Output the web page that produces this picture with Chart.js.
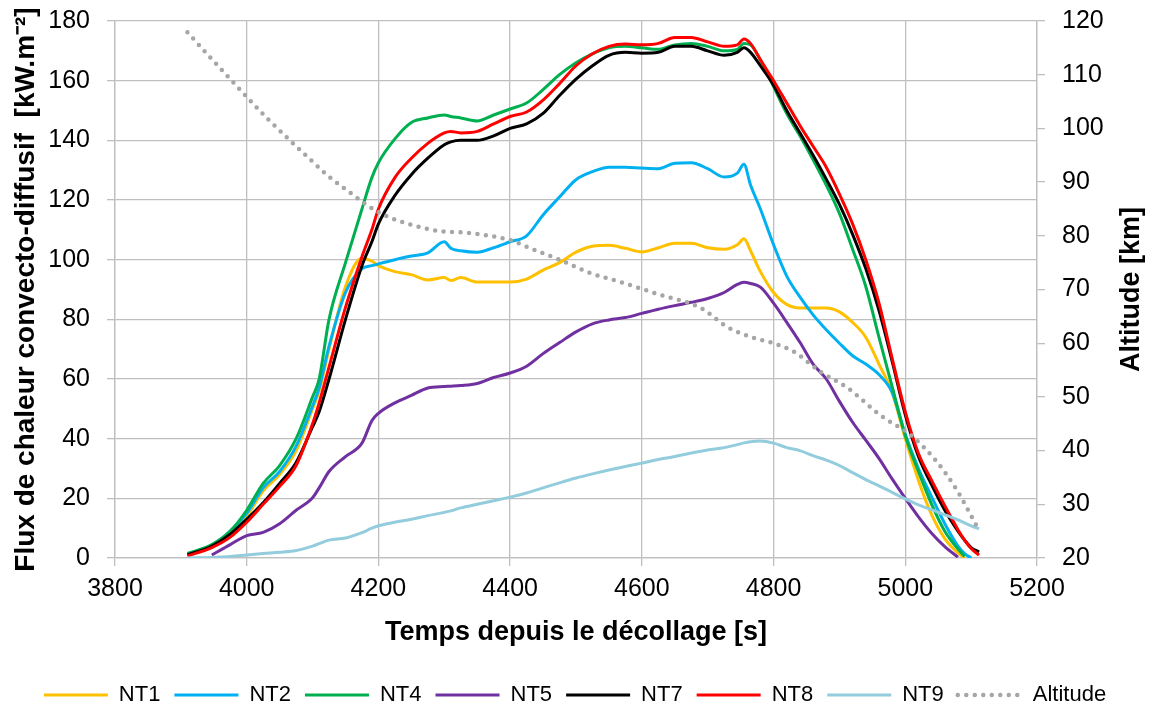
<!DOCTYPE html>
<html>
<head>
<meta charset="utf-8">
<script src="https://cdn.jsdelivr.net/npm/chart.js@4.4.0/dist/chart.umd.min.js"></script>
<style>
  html, body { margin: 0; padding: 0; background: #fff; }
  #box { width: 1150px; height: 712px; }
</style>
</head>
<body>
<div id="box"><canvas id="chart" width="1150" height="712"></canvas></div>
<script>
// temps depuis le décollage [s] (grille commune des thermocouples)
const temps = [3910, 3947, 3975, 4000, 4025, 4050, 4075, 4100, 4110, 4125,
  4150, 4175, 4190, 4200, 4225, 4250, 4275, 4300, 4310, 4325,
  4350, 4375, 4400, 4425, 4450, 4475, 4500, 4525, 4550, 4575,
  4600, 4625, 4650, 4675, 4700, 4725, 4745, 4755, 4765, 4780,
  4800, 4820, 4840, 4860, 4880, 4900, 4920, 4940, 4960, 4980,
  5000, 5020, 5040, 5060, 5080, 5090, 5100, 5112];

// flux convecto-diffusif [kW.m-2]
const fluxNT1 = [1, 4, 8.5, 14, 22.5, 28, 36, 50, 56, 70,
  91, 100.5, 99.5, 98, 96, 95, 93.2, 94, 93, 94,
  92.5, 92.5, 92.5, 93.5, 96.5, 99, 102.5, 104.5, 104.8, 103.8,
  102.6, 104, 105.5, 105.5, 104, 103.5, 105, 107, 103, 96,
  89, 85, 83.8, 83.8, 83.8, 82.5, 79, 74, 65, 55.5,
  40, 26, 14.5, 6.5, 1.7, 0, null, null];
const fluxNT2 = [1.2, 4.2, 9, 15, 23.5, 29, 37.5, 51, 57, 71,
  89, 97, 98, 98.6, 100, 101.2, 102.3, 106, 103.8, 103,
  102.5, 104, 106, 108, 115, 121, 126.8, 129.5, 131, 131,
  130.7, 130.5, 132.3, 132.5, 130.5, 127.7, 129, 132, 125, 117,
  105, 94.5, 87.5, 81.5, 76.5, 72, 67.8, 65, 61.5, 55.5,
  41.5, 30, 20.5, 11.5, 4, 1.5, 0, null];
const fluxNT4 = [1.5, 4.5, 9, 16, 25, 31, 40, 54, 60, 80,
  99, 117, 127.5, 132.5, 140.5, 146, 147.5, 148.5, 148, 147.5,
  146.5, 148.5, 150.5, 152.5, 157, 162, 166, 169, 171, 171.5,
  171, 170.5, 172, 172.5, 171.5, 170, 170.5, 172.5, 172, 167,
  158, 149, 141.5, 133.5, 125, 115.5, 103.5, 91, 74, 57.5,
  41, 29, 18, 9, 3, 0.5, null, null];
const fluxNT5 = [null, 1, 4.5, 7.5, 8.6, 11.5, 16, 20.2, 23.5, 29,
  34, 38.5, 46, 48.5, 52, 54.5, 57, 57.5, 57.6, 57.8,
  58.5, 60.5, 62, 64.3, 68.5, 72.2, 75.8, 78.5, 79.8, 80.6,
  82, 83.4, 84.6, 85.7, 87, 89, 91.7, 92.4, 92, 90.8,
  85.4, 79, 72.3, 65, 60, 52.5, 45.5, 39.5, 33.4, 26.5,
  20, 13.8, 8.3, 3.8, 0.3, null, null, null];
const fluxNT7 = [1, 4, 8, 13, 18.5, 25, 32, 44, 49, 60,
  80, 98, 106, 112, 121.5, 128.5, 134, 138.5, 139.5, 140,
  140, 141.5, 144, 145.5, 149, 155, 160.5, 165, 168.5, 169.5,
  169.2, 169.5, 171.5, 171.5, 170, 168.5, 169.5, 171, 169.5, 165,
  158.5, 150, 142.5, 135, 127, 118.5, 108.5, 97, 83, 66,
  48, 34, 24.5, 16, 9, 6, 3.5, 2];
const fluxNT8 = [0.7, 3.5, 7, 12, 18, 24, 31, 45, 52, 64,
  84, 101, 110, 117, 127.5, 134, 139, 142.5, 143, 142.5,
  143, 145.5, 148, 149.5, 153.5, 159, 165, 169, 171.5, 172.3,
  172, 172.5, 174.5, 174.5, 173, 171.5, 172, 174, 172.5, 167,
  160, 152.5, 145, 138, 131, 122, 112, 100, 85.5, 67,
  49, 35, 26, 17.5, 9.5, 6, 3.2, 1];
const fluxNT9 = [0, 0.2, 0.5, 1, 1.5, 1.9, 2.5, 4, 4.8, 6,
  6.7, 8.5, 10, 10.8, 12, 13, 14.2, 15.3, 15.8, 16.8,
  18, 19.2, 20.4, 21.8, 23.5, 25.2, 26.8, 28.2, 29.5, 30.7,
  31.8, 33, 34, 35.2, 36.2, 37, 38, 38.6, 39, 39.2,
  38.5, 37, 36, 34.3, 32.8, 31, 28.6, 26.3, 24.2, 22,
  19.8, 17.8, 16.2, 14.5, 12.8, 11.8, 10.8, 9.8];

// trajectoire : altitude [km]
const tempsAltitude = [3910, 3950, 3990, 4030, 4062, 4100, 4122, 4162, 4176, 4203,
  4230, 4264, 4291, 4339, 4400, 4430, 4476, 4521, 4567, 4628,
  4689, 4730, 4770, 4800, 4831, 4872, 4911, 4962, 5012, 5048,
  5078, 5110];
const altitude = [117.9, 112.5, 107.2, 102, 98.2, 93.8, 91.3, 87.6, 86.3, 84.2,
  82.8, 81.6, 80.9, 80.5, 79.2, 77.7, 75.5, 73.1, 71.4, 69,
  66.6, 63, 61, 60, 58.4, 54.6, 51.8, 46.6, 42.5, 37.9,
  32.7, 25.6];

const noms = ['NT1', 'NT2', 'NT4', 'NT5', 'NT7', 'NT8', 'NT9'];
const couleurs = ['#FFC000', '#00B0F0', '#00B050', '#7030A0', '#000000', '#FF0000', '#93CDDD'];
const flux = [fluxNT1, fluxNT2, fluxNT4, fluxNT5, fluxNT7, fluxNT8, fluxNT9];

const police = "'Liberation Sans', Arial, sans-serif";
const gris = 'rgb(191,191,191)';

function versPoints(xs, ys) {
  return xs.map((x, i) => ({x: x, y: ys[i]}));
}

// largeur fixe des axes verticaux, sans marge en haut/bas pour les étiquettes
function axeVertical(largeur) {
  return function(scale) {
    scale.width = largeur;
    scale.paddingTop = 0;
    scale.paddingBottom = 0;
  };
}

let datasets = noms.map((nom, i) => ({
  label: nom,
  data: versPoints(temps, flux[i]),
  borderColor: couleurs[i],
  backgroundColor: couleurs[i],
  borderWidth: 3,
  pointRadius: 0,
  cubicInterpolationMode: 'monotone',
  yAxisID: 'y',
  order: noms.length - i  // la dernière série est dessinée au-dessus
}));
datasets.push({
  label: 'Altitude',
  data: versPoints(tempsAltitude, altitude),
  borderColor: '#A6A6A6',
  backgroundColor: '#A6A6A6',
  borderWidth: 4.5,
  borderDash: [0, 8.5],
  borderCapStyle: 'round',
  pointRadius: 0,
  cubicInterpolationMode: 'monotone',
  yAxisID: 'y2',
  order: 0
});

// titre de l'axe de droite, lu de bas en haut
const titreDroite = {
  id: 'titreDroite',
  afterDraw: function(chart) {
    const axe = chart.scales.y2;
    const ctx = chart.ctx;
    ctx.save();
    ctx.translate(axe.right - 18, (axe.top + axe.bottom) / 2);
    ctx.rotate(-Math.PI / 2);
    ctx.font = "bold 27px " + police;
    ctx.fillStyle = '#000';
    ctx.textAlign = 'center';
    ctx.textBaseline = 'middle';
    ctx.fillText('Altitude [km]', 0, 0);
    ctx.restore();
  }
};

const config = {
  type: 'line',
  data: {datasets: datasets},
  options: {
    responsive: false,
    devicePixelRatio: 1,
    animation: false,
    layout: {padding: {top: 21, bottom: -4, left: 0, right: 0}},
    plugins: {
      tooltip: {enabled: false},
      legend: {
        position: 'bottom',
        labels: {
          usePointStyle: true,
          pointStyleWidth: 64,
          padding: 14,
          color: '#000',
          font: {family: police, size: 22},
          generateLabels: function(chart) {
            return chart.data.datasets.map((ds, i) => ({
              text: ds.label,
              strokeStyle: ds.borderColor,
              fillStyle: ds.borderColor,
              lineWidth: ds.borderWidth,
              lineDash: ds.borderDash || [],
              lineCap: ds.borderCapStyle || 'butt',
              pointStyle: 'line',
              fontColor: '#000',
              hidden: false,
              datasetIndex: i
            }));
          }
        }
      }
    },
    scales: {
      x: {
        type: 'linear',
        min: 3800,
        max: 5200,
        ticks: {stepSize: 200, padding: 8, color: '#000', font: {family: police, size: 25},
          callback: v => String(v)},
        grid: {color: gris, lineWidth: 1.3, tickLength: 8},
        border: {color: gris, width: 1.3},
        title: {display: true, text: 'Temps depuis le décollage [s]', color: '#000',
          font: {family: police, size: 27, weight: 'bold'}, padding: {top: 4, bottom: 21}},
        afterFit: function(scale) { scale.height = 112; }
      },
      y: {
        position: 'left',
        min: 0,
        max: 180,
        ticks: {stepSize: 20, padding: 17, color: '#000', font: {family: police, size: 25},
          callback: v => String(v)},
        grid: {color: gris, lineWidth: 1.3, tickLength: 8},
        border: {color: gris, width: 1.3},
        title: {display: true, text: 'Flux de chaleur convecto-diffusif  [kW.m⁻²]', color: '#000',
          font: {family: police, size: 28, weight: 'bold'}, padding: {top: 9, bottom: 0}},
        afterFit: axeVertical(115)
      },
      y2: {
        position: 'right',
        min: 20,
        max: 120,
        ticks: {stepSize: 10, padding: 17, color: '#000', font: {family: police, size: 25},
          callback: v => String(v)},
        grid: {drawOnChartArea: false, color: gris, lineWidth: 1.3, tickLength: 8},
        border: {color: gris, width: 1.3},
        afterFit: axeVertical(113)
      }
    }
  },
  plugins: [titreDroite]
};

const monGraphique = new Chart(document.getElementById('chart'), config);
</script>
</body>
</html>
